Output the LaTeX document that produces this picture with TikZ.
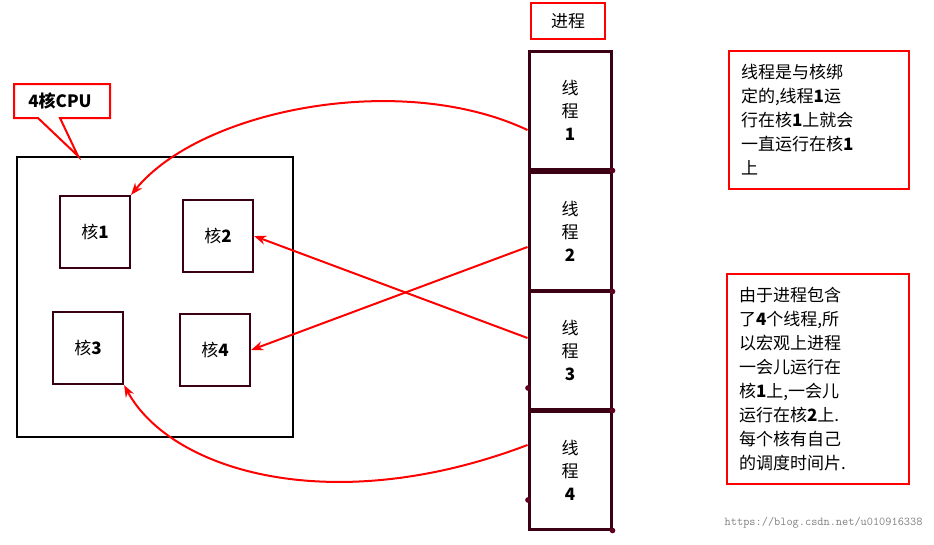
\documentclass[tikz,border=0pt]{standalone}
\usepackage{fontspec}
\setmainfont{Noto Sans CJK SC}
\usetikzlibrary{arrows.meta}
\begin{document}
\begin{tikzpicture}[x=1pt,y=-1pt,
  thr/.style={draw=black!55!purple!70!black,line width=3pt,fill=white,minimum width=82pt,minimum height=118pt,align=center,font=\fontsize{17}{23}\selectfont},
  core/.style={draw=black!40!purple!50!black,line width=2.2pt,fill=white,minimum width=70pt,minimum height=72pt,font=\fontsize{17}{20}\selectfont},
  note/.style={draw=red,line width=2pt,fill=white,align=left,anchor=north west,inner xsep=12pt,inner ysep=10pt,font=\fontsize{17}{24}\selectfont},
  arr/.style={red,line width=2pt,-{Stealth[length=12pt,width=9pt]}},
  dot/.style={circle,fill=black!50!purple,inner sep=2pt}]
\useasboundingbox (0,0) rectangle (934,544);
\node[draw=red,line width=2pt,minimum width=74pt,minimum height=36pt,font=\fontsize{17}{20}\selectfont,fill=white] (proc) at (568,21) {进程};
\node[thr] (t1) at (570,110) {线\\程\\\textbf{1}};
\node[thr] (t2) at (570,231) {线\\程\\\textbf{2}};
\node[thr] (t3) at (570,350) {线\\程\\\textbf{3}};
\node[thr] (t4) at (570,470) {线\\程\\\textbf{4}};
\node[dot] (d1) at (t1.south east) {};
\node[dot] (d2) at (t2.south east) {};
\node[dot] (d3) at (t3.south east) {};
\node[dot] (d4) at (t4.south east) {};
\node[dot] (d5) at (528,388) {};
\node[dot] (d6) at (528,500) {};
\node[draw,line width=2.5pt,minimum width=276pt,minimum height=280pt] (cpu) at (155,297) {};
\node[core] (c1) at (95,232) {核\textbf{1}};
\node[core] (c2) at (218,236) {核\textbf{2}};
\node[core] (c3) at (88,348) {核\textbf{3}};
\node[core] (c4) at (215,350) {核\textbf{4}};
\coordinate (tip) at (78,156);
\draw[red,line width=2pt,fill=white]
  (14,84) -- (110,84) -- (110,118) -- (60,118) -- (tip) -- (38,118) -- (14,118) -- cycle;
\node[font=\fontsize{17}{20}\selectfont\bfseries] (cpul) at (60,101) {4核CPU};
\node[note,text width=156pt,minimum height=138pt] (n1) at (728,50) {线程是与核绑\\定的,线程\textbf{1}运\\行在核\textbf{1}上就会\\一直运行在核\textbf{1}\\上};
\node[note,text width=158pt,minimum height=210pt] (n2) at (726,273) {由于进程包含\\了\textbf{4}个线程,所\\以宏观上进程\\一会儿运行在\\核\textbf{1}上,一会儿\\运行在核\textbf{2}上.\\每个核有自己\\的调度时间片.};
\draw[arr] ([yshift=-20pt]t1.west) .. controls (400,70) and (200,110) .. (c1.north east);
\draw[arr] ([yshift=-16pt]t2.west) -- (c4.east);
\draw[arr] ([yshift=12pt]t3.west) -- (c2.east);
\draw[arr] ([yshift=25pt]t4.west) .. controls (330,520) and (170,470) .. (c3.south east);
\node[gray,font=\ttfamily\fontsize{12}{14}\selectfont,anchor=east] (wm) at (926,523) {https://blog.csdn.net/u010916338};
\end{tikzpicture}
\end{document}
